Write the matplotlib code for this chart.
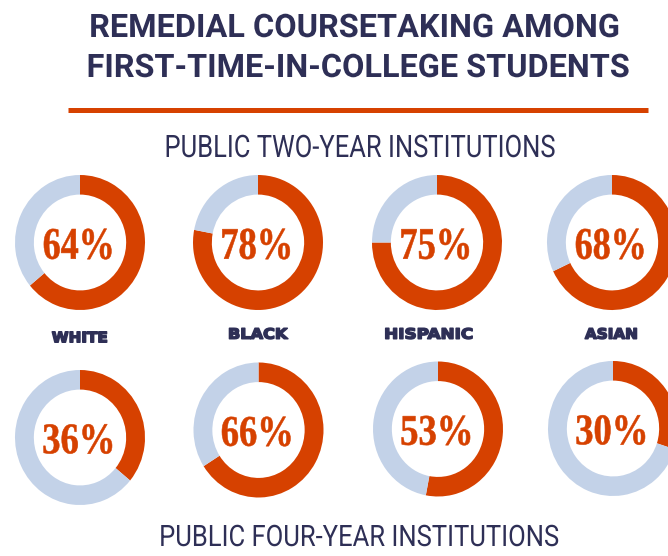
import matplotlib
matplotlib.use('Agg')
import matplotlib.pyplot as plt
from matplotlib.patheffects import AbstractPathEffect
from matplotlib.transforms import Affine2D
from matplotlib.textpath import TextPath
from matplotlib.font_manager import FontProperties

# ---------------- data ----------------
groups = ['WHITE', 'BLACK', 'HISPANIC', 'ASIAN']
two_year_pct = [64, 78, 75, 68]
four_year_pct = [36, 66, 53, 30]
title_lines = ['REMEDIAL COURSETAKING AMONG', 'FIRST-TIME-IN-COLLEGE STUDENTS']
section_titles = ['PUBLIC TWO-YEAR INSTITUTIONS', 'PUBLIC FOUR-YEAR INSTITUTIONS']

# ---------------- style / layout ----------------
W, H, DPI = 668, 556, 100
ORANGE = '#D64100'
BLUE = '#C3D2E8'
NAVY = '#2E2F56'

row1_x = [80, 258, 437, 612]
row1_y = [242.5, 242.5, 242.5, 242.5]
row2_x = [80, 258.5, 438, 613]
row2_y = [437.5, 430, 429, 428.5]
RX, RY = 65, 67.5
RING = 0.29

label_y = [343, 339.5, 339.5, 339.5]
label_w = [56, 60, 88, 53]
label_x = [80, 258, 429, 611.5]


class Squeeze(AbstractPathEffect):
    """Horizontally condense a text's glyphs around their own centre,
    optionally thickening them with a stroke of the same colour."""
    def __init__(self, sx=1.0, lw=0.0):
        super().__init__()
        self.sx = sx
        self.lw = lw

    def draw_path(self, renderer, gc, tpath, affine, rgbFace=None):
        ext = tpath.get_extents()
        cx = 0.5 * (ext.x0 + ext.x1)
        t = Affine2D().translate(-cx, 0).scale(self.sx, 1.0).translate(cx, 0) + affine
        if self.lw > 0:
            gc0 = renderer.new_gc()
            gc0.copy_properties(gc)
            gc0.set_linewidth(self.lw)
            gc0.set_joinstyle('round')
            renderer.draw_path(gc0, tpath, t, rgbFace)
            gc0.restore()
        else:
            renderer.draw_path(gc, tpath, t, rgbFace)


def fitted_text(ax, s, cx, base, cap_px, width_px, fp, color, ref='H', lw=0.0):
    pad = lw * DPI / 72.0  # stroke adds half of this on each side
    unit = TextPath((0, 0), ref, size=100, prop=fp).get_extents().height / 100.0
    fs = (cap_px - pad) * 72.0 / DPI / unit
    w = TextPath((0, 0), s, size=fs, prop=fp).get_extents().width * DPI / 72.0
    sx = (width_px - pad) / w
    p = fp.copy()
    p.set_size(fs)
    ax.text(cx, base - pad / 2, s, fontproperties=p, ha='center', va='baseline',
            color=color, path_effects=[Squeeze(sx, lw)])


fig = plt.figure(figsize=(W / DPI, H / DPI), dpi=DPI, facecolor='white')


def donut(cx, cy, pct):
    ax = fig.add_axes([(cx - RX) / W, 1 - (cy + RY) / H, 2 * RX / W, 2 * RY / H])
    wedges, _ = ax.pie([pct, 100 - pct], colors=[ORANGE, BLUE], startangle=90,
                       counterclock=False, radius=1.0,
                       wedgeprops=dict(width=RING, edgecolor='none', linewidth=0))
    for w_ in wedges:
        w_.set_clip_on(False)
    ax.set_xlim(-1, 1)
    ax.set_ylim(-1, 1)
    ax.set_aspect('auto')
    ax.axis('off')


for x, y, v in zip(row1_x, row1_y, two_year_pct):
    donut(x, y, v)
for x, y, v in zip(row2_x, row2_y, four_year_pct):
    donut(x, y, v)

# overlay axes in pixel coordinates for text and rule
ov = fig.add_axes([0, 0, 1, 1], zorder=10)
ov.set_xlim(0, W)
ov.set_ylim(H, 0)
ov.axis('off')
ov.patch.set_visible(False)

fp_title = FontProperties(family=['Roboto', 'DejaVu Sans'], weight='bold')
fp_sub = FontProperties(family=['Roboto', 'DejaVu Sans'], weight='normal')
fp_lab = FontProperties(family=['DejaVu Sans'], weight='bold')
fp_pct = FontProperties(family=['Liberation Serif', 'DejaVu Serif'], weight='bold')

fitted_text(ov, title_lines[0], 354.5, 37, 23, 527, fp_title, NAVY)
fitted_text(ov, title_lines[1], 358, 77, 23, 540, fp_title, NAVY)

ov.plot([68, 648], [109.5, 109.5], color=ORANGE, lw=3.6, solid_capstyle='butt')

fitted_text(ov, section_titles[0], 359, 157, 22, 388, fp_sub, NAVY)
fitted_text(ov, section_titles[1], 358.5, 546, 21, 397, fp_sub, NAVY)

for g, x, y, w in zip(groups, label_x, label_y, label_w):
    fitted_text(ov, g, x, y, 12, w, fp_lab, NAVY, lw=1.1)

for x, y, v in zip(row1_x, row1_y, two_year_pct):
    fitted_text(ov, f'{v}%', x - 1, y + 16.5, 31, 68, fp_pct, ORANGE, ref='0', lw=0.4)
for x, y, v in zip(row2_x, row2_y, four_year_pct):
    fitted_text(ov, f'{v}%', x - 1, y + 16, 30, 69, fp_pct, ORANGE, ref='0', lw=0.4)

fig.savefig('out.png', dpi=DPI, facecolor='white')
